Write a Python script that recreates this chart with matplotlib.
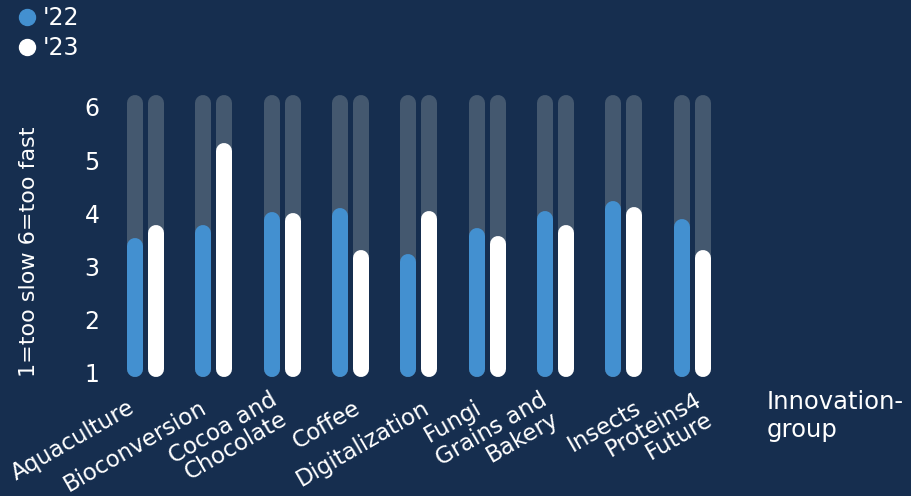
import matplotlib
matplotlib.use("Agg")
import matplotlib.pyplot as plt
import matplotlib.transforms as mtransforms
from matplotlib.lines import Line2D

# data
groups = ["Aquaculture", "Bioconversion", "Cocoa and\nChocolate", "Coffee",
          "Digitalization", "Fungi", "Grains and\nBakery", "Insects",
          "Proteins4\nFuture"]
vals_22 = [3.33, 3.57, 3.81, 3.88, 3.02, 3.50, 3.82, 4.01, 3.67]
vals_23 = [3.56, 5.11, 3.80, 3.09, 3.83, 3.36, 3.56, 3.90, 3.09]
series = ["'22", "'23"]
scale_min, scale_max = 1, 6

BG = "#162e4f"
BLUE = "#4390d0"
WHITE = "#ffffff"
TRACK = "#44586f"

plt.rcParams['font.family'] = ['DejaVu Sans']

DPI = 100
fig = plt.figure(figsize=(9.12, 4.96), dpi=DPI, facecolor=BG)
ax = fig.add_axes([111.3 / 912, 1 - 378.3 / 496, 615 / 912, 287.3 / 496])
ax.set_facecolor(BG)

lw = 16 * 72 / DPI
off = 0.154
# shift the rounded bars a few px up, like the original rendering
shift = mtransforms.ScaledTranslation(0, 3.5 / DPI, fig.dpi_scale_trans)
tr = ax.transData + shift

for i in range(len(groups)):
    for dx, v, c in [(-off, vals_22[i], BLUE), (off, vals_23[i], WHITE)]:
        x = i + dx
        ax.plot([x, x], [scale_min, scale_max], color=TRACK, lw=lw,
                solid_capstyle='round', transform=tr, zorder=1)
        ax.plot([x, x], [scale_min, v], color=c, lw=lw,
                solid_capstyle='round', transform=tr, zorder=2)

ax.set_xlim(-0.5, len(groups) - 0.5)
ax.set_ylim(0.9, 6.3)
ax.set_yticks(range(scale_min, scale_max + 1))
ax.set_xticks(range(len(groups)))
ax.set_xticklabels(groups, rotation=30, ha='right', rotation_mode='anchor',
                   fontsize=16.5, color=WHITE, multialignment='right',
                   linespacing=0.95)
ax.tick_params(axis='y', length=0, pad=8.5, labelsize=17, labelcolor=WHITE)
ax.tick_params(axis='x', length=0, pad=13)

# the original places the rotated labels a bit unevenly; nudge them (px)
label_dx = [0, 3, 5, 20, 21, 5, 2, 28, 20]
for lab, ndx in zip(ax.get_xticklabels(), label_dx):
    ndy = 8 if "\n" in lab.get_text() else 0
    lab.set_transform(lab.get_transform() + mtransforms.ScaledTranslation(
        (ndx - 18) / DPI, ndy / DPI, fig.dpi_scale_trans))
for s in ax.spines.values():
    s.set_visible(False)

ax.set_ylabel("1=too slow 6=too fast", fontsize=16, color=WHITE)
ax.yaxis.set_label_coords(-0.1176, 0.44)

fig.text(767 / 912, 1 - 416 / 496, "Innovation-\ngroup", fontsize=17.5,
         color=WHITE, ha='left', va='center', linespacing=1.2)

handles = [Line2D([], [], marker='o', ls='none', color=BLUE, markersize=11.5),
           Line2D([], [], marker='o', ls='none', color=WHITE, markersize=11.5)]
fig.legend(handles, series, loc='upper left', bbox_to_anchor=(-0.009, 1.03),
           frameon=False, fontsize=17, labelcolor=WHITE, handletextpad=0.05,
           labelspacing=0.25, handlelength=1.2)

plt.savefig("out.png", dpi=DPI, facecolor=BG)
